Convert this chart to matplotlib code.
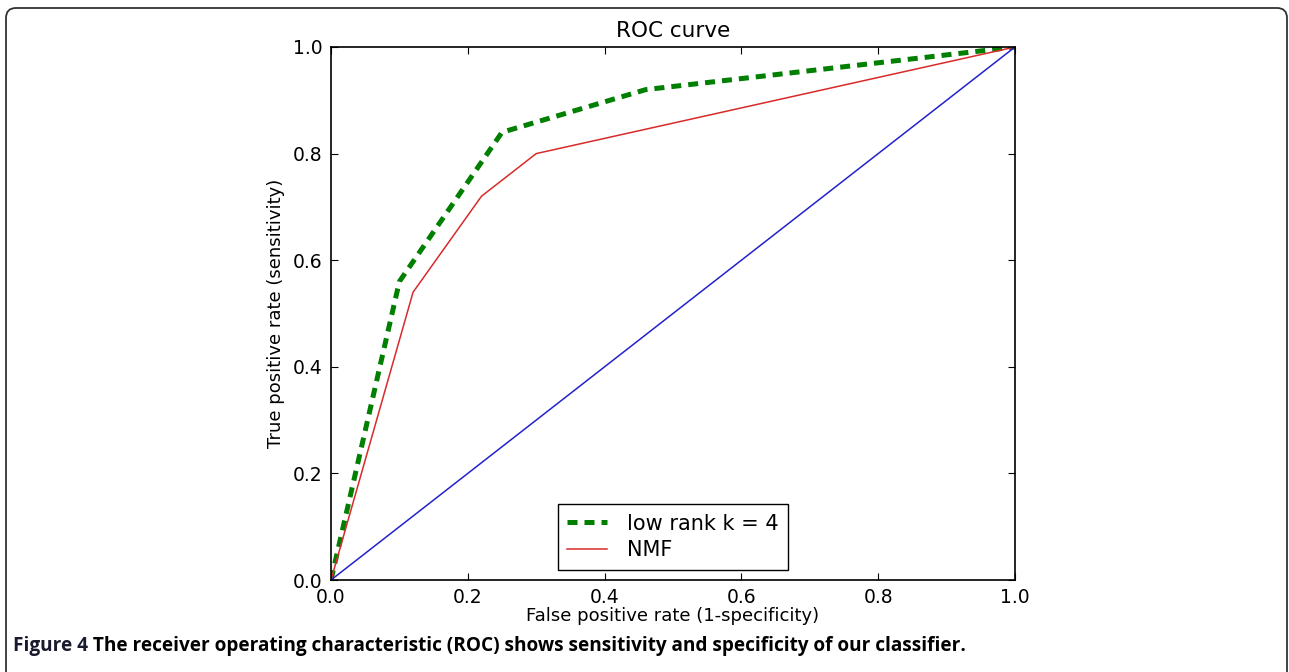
"""
ROC curve: low rank k = 4 vs NMF, with a chance diagonal.
"""

import matplotlib
matplotlib.use("Agg")
import matplotlib.pyplot as plt
from matplotlib.patches import FancyBboxPatch

# ROC points (false positive rate, true positive rate)
lowrank_fpr = [0.0, 0.10, 0.25, 0.46, 1.0]
lowrank_tpr = [0.0, 0.56, 0.84, 0.92, 1.0]
nmf_fpr = [0.0, 0.12, 0.22, 0.30, 1.0]
nmf_tpr = [0.0, 0.54, 0.72, 0.80, 1.0]
chance = [0.0, 1.0]

ticks = [0.0, 0.2, 0.4, 0.6, 0.8, 1.0]
tick_labels = ["0.0", "0.2", "0.4", "0.6", "0.8", "1.0"]
series_labels = ["low rank k = 4", "NMF"]
caption_bold = "Figure 4"
caption_rest = (" The receiver operating characteristic (ROC) shows sensitivity "
                "and specificity of our classifier.")

W, H = 1289, 672
plt.rcParams["font.family"] = ["DejaVu Sans"]

fig = plt.figure(figsize=(W / 100, H / 100), dpi=100)
ax = fig.add_axes([331 / W, 92 / H, 684 / W, 533 / H])

ax.plot(lowrank_fpr, lowrank_tpr, color="#007f00", linewidth=3.6,
        linestyle=(0, (2.0, 1.4)), label=series_labels[0])
ax.plot(nmf_fpr, nmf_tpr, color="#d92a2a", linewidth=1.1, label=series_labels[1])
ax.plot(chance, chance, color="#2222cc", linewidth=1.1)

ax.set_xlim(0, 1)
ax.set_ylim(0, 1)
ax.set_xticks(ticks)
ax.set_xticklabels(tick_labels)
ax.set_yticks(ticks)
ax.set_yticklabels(tick_labels)
ax.tick_params(direction="in", top=True, right=True, length=5, width=0.8,
               labelsize=13.5, pad=6)
for s in ax.spines.values():
    s.set_linewidth(1.2)

ax.set_xlabel("False positive rate (1-specificity)", fontsize=13, labelpad=0)
ax.set_ylabel("True positive rate (sensitivity)", fontsize=13, labelpad=6)
ax.set_title("ROC curve", fontsize=15.5, pad=7)

leg = ax.legend(loc="lower center", fontsize=15, fancybox=False,
                edgecolor="black", framealpha=1, borderaxespad=0.5,
                handlelength=1.9, handletextpad=1.0, labelspacing=0.32,
                borderpad=0.45)
leg.get_frame().set_linewidth(1.0)

# rounded frame round the whole figure, open at the bottom edge (inches)
frame = FancyBboxPatch((6 / 100, -0.5), 1281 / 100, (H - 8) / 100 + 0.5,
                       boxstyle="round,pad=0,rounding_size=0.1",
                       transform=fig.dpi_scale_trans, fill=False,
                       edgecolor="#333333", linewidth=1.3, clip_on=False)
fig.patches.append(frame)

# caption, sized so that it spans the same width as in the figure
cap_y = 1 - 646 / H
t1 = fig.text(13 / W, cap_y, caption_bold, fontsize=13, fontweight="bold",
              family="Open Sans", va="center", color="#1a1a2e")
t2 = fig.text(0, cap_y, caption_rest, fontsize=13, fontweight="bold",
              family="Open Sans", va="center", color="black")
fig.canvas.draw()
r = fig.canvas.get_renderer()
total = t1.get_window_extent(r).width + t2.get_window_extent(r).width
size = 13 * 944 / total
t1.set_fontsize(size)
t2.set_fontsize(size)
fig.canvas.draw()
t2.set_x(t1.get_window_extent(r).x1 / W)

fig.savefig("out.png", dpi=100)
